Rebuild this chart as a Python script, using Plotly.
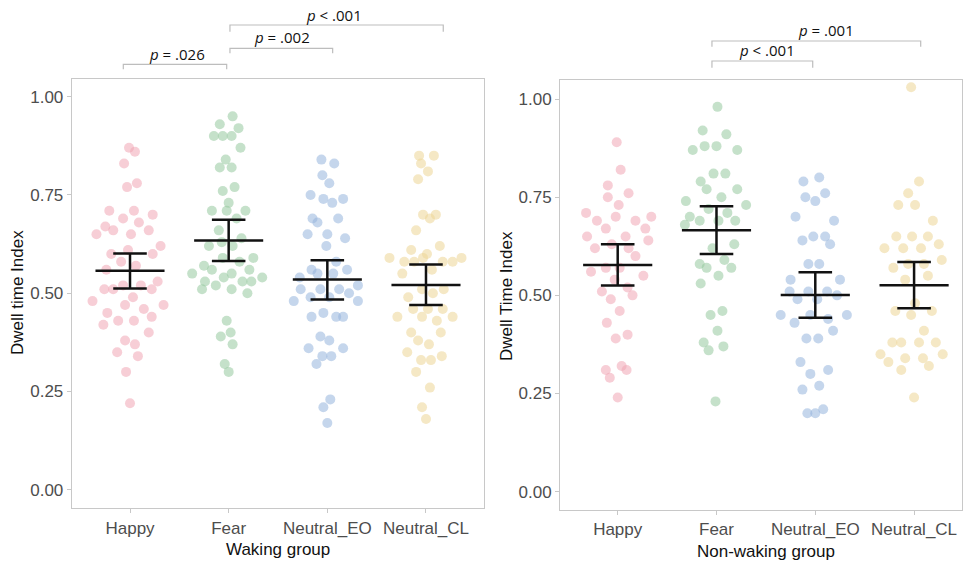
import plotly.graph_objects as go

categories = ["Happy", "Fear", "Neutral_EO", "Neutral_CL"]
y_ticks = [0.0, 0.25, 0.5, 0.75, 1.0]
y_tick_labels = ["0.00", "0.25", "0.50", "0.75", "1.00"]

# ---------------- Waking group ----------------
w_happy = [0.87,0.86,0.83,0.77,0.78,0.71,0.71,0.69,0.70,0.68,0.67,0.66,0.66,0.65,0.65,0.62,0.60,0.61,0.60,0.58,0.57,0.56,0.52,0.52,0.53,0.51,0.51,0.49,0.48,0.51,0.45,0.47,0.46,0.47,0.44,0.42,0.43,0.43,0.40,0.38,0.37,0.35,0.34,0.30,0.22]
w_happy_jit = [-0.01,0.05,-0.06,-0.03,0.07,-0.21,0.04,-0.07,0.23,0.09,-0.25,-0.17,0.19,-0.34,0.01,0.31,-0.19,-0.02,0.23,-0.09,0.06,-0.24,-0.07,0.11,0.28,-0.26,-0.17,0.03,-0.38,0.22,-0.23,-0.05,0.14,0.34,0.22,-0.27,-0.12,0.04,0.19,-0.05,0.05,-0.13,0.08,-0.04,0.00]

w_fear = [0.95,0.93,0.92,0.90,0.90,0.90,0.87,0.84,0.82,0.82,0.76,0.77,0.73,0.71,0.71,0.71,0.69,0.66,0.64,0.62,0.63,0.62,0.59,0.59,0.58,0.57,0.56,0.56,0.55,0.55,0.54,0.54,0.53,0.53,0.53,0.52,0.51,0.51,0.50,0.43,0.39,0.40,0.37,0.32,0.30]
w_fear_jit = [0.04,-0.09,0.10,-0.15,-0.06,0.03,0.12,-0.03,-0.09,0.03,-0.06,0.06,0.00,-0.17,-0.02,0.17,0.08,-0.10,0.13,-0.20,-0.07,0.04,-0.06,0.25,0.11,-0.25,-0.17,0.21,-0.37,0.03,-0.05,0.34,-0.24,0.14,0.23,-0.13,-0.27,0.03,0.19,-0.02,-0.08,0.02,0.04,-0.04,0.00]

w_eo = [0.84,0.83,0.80,0.78,0.75,0.74,0.73,0.74,0.69,0.68,0.69,0.65,0.65,0.64,0.62,0.58,0.56,0.55,0.55,0.56,0.54,0.52,0.51,0.51,0.51,0.50,0.48,0.49,0.49,0.48,0.44,0.45,0.44,0.44,0.39,0.38,0.36,0.36,0.34,0.34,0.32,0.23,0.21,0.17]
w_eo_jit = [-0.06,0.07,-0.05,0.02,-0.17,-0.04,0.05,0.16,-0.15,-0.10,0.11,-0.20,0.00,0.18,-0.01,0.09,-0.16,-0.10,0.06,0.20,-0.28,0.31,-0.27,-0.07,0.12,0.22,-0.34,-0.17,0.02,0.31,-0.16,-0.04,0.09,0.16,-0.07,0.02,-0.19,0.16,-0.05,0.04,-0.11,0.03,-0.04,0.00]

w_cl = [0.85,0.85,0.83,0.81,0.79,0.70,0.70,0.69,0.66,0.62,0.61,0.60,0.59,0.58,0.58,0.59,0.58,0.58,0.59,0.56,0.55,0.51,0.50,0.51,0.49,0.46,0.46,0.46,0.44,0.44,0.43,0.44,0.40,0.40,0.38,0.37,0.35,0.33,0.33,0.34,0.30,0.26,0.21,0.18]
w_cl_jit = [-0.07,0.08,-0.05,0.02,-0.08,-0.03,0.10,0.04,-0.10,0.14,-0.15,0.01,-0.37,-0.22,-0.12,-0.03,0.17,0.27,0.36,0.06,-0.24,-0.04,0.07,0.18,-0.18,-0.13,0.02,0.17,-0.29,-0.04,0.11,0.27,-0.15,0.15,-0.08,0.03,-0.19,-0.05,0.05,0.16,-0.10,0.04,-0.04,0.00]

w_mean = [0.557, 0.634, 0.535, 0.521]
w_ci_low = [0.512, 0.582, 0.484, 0.470]
w_ci_high = [0.601, 0.687, 0.584, 0.573]

# ---------------- Non-waking group ----------------
n_happy = [0.89,0.82,0.78,0.75,0.76,0.73,0.71,0.70,0.70,0.69,0.69,0.67,0.67,0.65,0.65,0.64,0.62,0.63,0.62,0.60,0.56,0.57,0.57,0.55,0.54,0.51,0.52,0.49,0.50,0.46,0.43,0.39,0.40,0.31,0.32,0.31,0.29,0.24]
n_happy_jit = [-0.01,0.03,-0.10,-0.10,0.11,0.01,-0.32,-0.02,0.34,-0.21,0.18,-0.12,0.28,-0.31,0.08,0.31,-0.23,-0.06,0.11,0.18,-0.27,-0.12,0.02,0.26,-0.03,-0.16,0.10,-0.07,0.15,0.02,-0.11,-0.02,0.10,-0.12,0.04,0.09,-0.08,0.00]

n_fear = [0.98,0.92,0.91,0.88,0.88,0.87,0.87,0.81,0.81,0.79,0.77,0.77,0.75,0.74,0.73,0.72,0.71,0.70,0.69,0.69,0.69,0.68,0.63,0.62,0.59,0.58,0.57,0.57,0.55,0.53,0.45,0.46,0.41,0.38,0.37,0.36,0.23]
n_fear_jit = [0.01,-0.14,0.10,-0.12,0.00,-0.24,0.21,-0.03,0.09,-0.16,-0.10,0.21,0.05,-0.31,0.30,-0.08,0.11,-0.27,-0.17,0.02,0.19,-0.32,0.18,-0.04,0.08,-0.17,-0.10,0.15,0.02,-0.16,-0.06,0.06,0.01,-0.13,0.07,-0.08,-0.01]

n_eo = [0.79,0.80,0.75,0.74,0.76,0.70,0.69,0.65,0.65,0.64,0.63,0.58,0.58,0.54,0.54,0.51,0.51,0.51,0.50,0.49,0.49,0.45,0.45,0.45,0.44,0.43,0.41,0.39,0.39,0.33,0.31,0.30,0.26,0.27,0.21,0.20,0.20]
n_eo_jit = [-0.12,0.04,-0.10,0.00,0.10,-0.20,0.19,-0.02,0.10,-0.13,0.15,-0.07,0.04,-0.25,0.25,-0.26,-0.07,0.12,0.22,-0.18,0.02,-0.35,-0.05,0.32,0.13,-0.21,0.18,-0.09,0.03,-0.15,0.13,-0.05,-0.13,0.04,0.08,-0.08,0.00]

n_cl = [1.03,0.79,0.76,0.73,0.73,0.69,0.65,0.65,0.65,0.62,0.62,0.62,0.63,0.59,0.58,0.58,0.57,0.55,0.54,0.48,0.46,0.45,0.46,0.41,0.38,0.38,0.38,0.38,0.35,0.33,0.34,0.34,0.35,0.31,0.32,0.24]
n_cl_jit = [-0.03,0.05,-0.06,-0.16,0.01,0.19,-0.18,-0.02,0.14,-0.30,-0.11,0.07,0.25,0.28,-0.06,0.10,-0.21,0.14,-0.09,0.01,-0.19,-0.03,0.18,0.10,-0.22,-0.13,0.05,0.22,-0.34,-0.26,-0.09,0.09,0.29,-0.13,0.15,0.00]

n_mean = [0.577, 0.666, 0.501, 0.526]
n_ci_low = [0.525, 0.605, 0.443, 0.467]
n_ci_high = [0.630, 0.727, 0.559, 0.585]

# significance labels
w_sig = ["<i>p</i> = .026", "<i>p</i> = .002", "<i>p</i> &lt; .001"]
n_sig = ["<i>p</i> &lt; .001", "<i>p</i> = .001"]

colors = ["rgba(240,166,180,0.55)", "rgba(150,200,158,0.55)",
          "rgba(150,180,220,0.55)", "rgba(236,214,150,0.55)"]

W, H = 965, 562
FONT = "Liberation Sans"

fig = go.Figure()

def add_panel(groups, jits, means, lows, highs, xa, ya):
    for i, (vals, jit) in enumerate(zip(groups, jits)):
        fig.add_trace(go.Scatter(
            x=[i + j for j in jit], y=vals, mode="markers",
            marker=dict(size=10, color=colors[i], line=dict(width=0)),
            xaxis=xa, yaxis=ya, showlegend=False, hoverinfo="y"))
    # mean bars + CI
    xs, ys = [], []
    for i in range(len(means)):
        xs += [i - 0.35, i + 0.35, None]
        ys += [means[i], means[i], None]
        xs += [i, i, None]
        ys += [lows[i], highs[i], None]
        xs += [i - 0.17, i + 0.17, None]
        ys += [lows[i], lows[i], None]
        xs += [i - 0.17, i + 0.17, None]
        ys += [highs[i], highs[i], None]
    fig.add_trace(go.Scatter(x=xs, y=ys, mode="lines",
                             line=dict(color="#111111", width=2.5),
                             xaxis=xa, yaxis=ya, showlegend=False, hoverinfo="skip"))

add_panel([w_happy, w_fear, w_eo, w_cl], [w_happy_jit, w_fear_jit, w_eo_jit, w_cl_jit],
          w_mean, w_ci_low, w_ci_high, "x", "y")
add_panel([n_happy, n_fear, n_eo, n_cl], [n_happy_jit, n_fear_jit, n_eo_jit, n_cl_jit],
          n_mean, n_ci_low, n_ci_high, "x2", "y2")

def px_x(p):
    return p / W

def px_y(p):
    return (H - p) / H

axis_common = dict(showgrid=False, zeroline=False, showline=True, mirror=True,
                   linecolor="#c8c8c8", linewidth=1, ticks="outside", ticklen=4,
                   tickcolor="#c8c8c8",
                   tickfont=dict(family=FONT, size=17, color="#4d4d4d"))

fig.update_layout(
    width=W, height=H, margin=dict(l=0, r=0, t=0, b=0),
    paper_bgcolor="white", plot_bgcolor="white", showlegend=False,
    xaxis=dict(domain=[px_x(71.7), px_x(484)], range=[-0.591, 3.588],
               tickvals=[0, 1, 2, 3], ticktext=categories, anchor="y", **axis_common),
    yaxis=dict(domain=[px_y(508.3), px_y(79)], range=[-0.047, 1.045],
               tickvals=y_ticks, ticktext=y_tick_labels, anchor="x", **axis_common),
    xaxis2=dict(domain=[px_x(560), px_x(962)], range=[-0.584, 3.485],
                tickvals=[0, 1, 2, 3], ticktext=categories, anchor="y2", **axis_common),
    yaxis2=dict(domain=[px_y(509.5), px_y(80)], range=[-0.0453, 1.0484],
                tickvals=y_ticks, ticktext=y_tick_labels, anchor="x2", **axis_common),
)

# axis titles as annotations
def ann(text, x, y, angle=0, size=17, color="#111111", family=FONT, xref="paper"):
    fig.add_annotation(text=text, x=x, y=y, xref=xref, yref="paper",
                       showarrow=False, textangle=angle,
                       font=dict(family=family, size=size, color=color),
                       xanchor="center", yanchor="middle")

ann("Dwell time Index", px_x(18), px_y(293), angle=-90)
ann("Dwell Time Index", px_x(506), px_y(296), angle=-90)
ann("Waking group", px_x(278), px_y(549))
ann("Non-waking group", px_x(766), px_y(551))

# significance brackets
def bracket(xref, x0, x1, ytop, ybot):
    fig.add_shape(type="path", xref=xref, yref="paper",
                  path=f"M {x0} {px_y(ybot)} L {x0} {px_y(ytop)} L {x1} {px_y(ytop)} L {x1} {px_y(ybot)}",
                  line=dict(color="#bdbdbd", width=1.2))

SIGFONT = "Open Sans"
bracket("x", -0.068, 0.98, 64.3, 69.3)
bracket("x", 1.013, 2.054, 48.3, 53.3)
bracket("x", 1.013, 3.175, 25, 31.7)
ann(w_sig[0], 0.473, px_y(53.5), size=15, color="#111111", family=SIGFONT, xref="x")
ann(w_sig[1], 1.537, px_y(37.5), size=15, color="#111111", family=SIGFONT, xref="x")
ann(w_sig[2], 2.067, px_y(15), size=15, color="#111111", family=SIGFONT, xref="x")

bracket("x2", 0.954, 1.974, 61, 67.7)
bracket("x2", 0.954, 3.067, 41, 46.7)
ann(n_sig[0], 1.508, px_y(50), size=15, color="#111111", family=SIGFONT, xref="x2")
ann(n_sig[1], 2.108, px_y(30), size=15, color="#111111", family=SIGFONT, xref="x2")

fig.write_html("out.html", config={"displayModeBar": False},
               post_script="document.body.style.margin='0px';document.body.style.overflow='hidden';")
